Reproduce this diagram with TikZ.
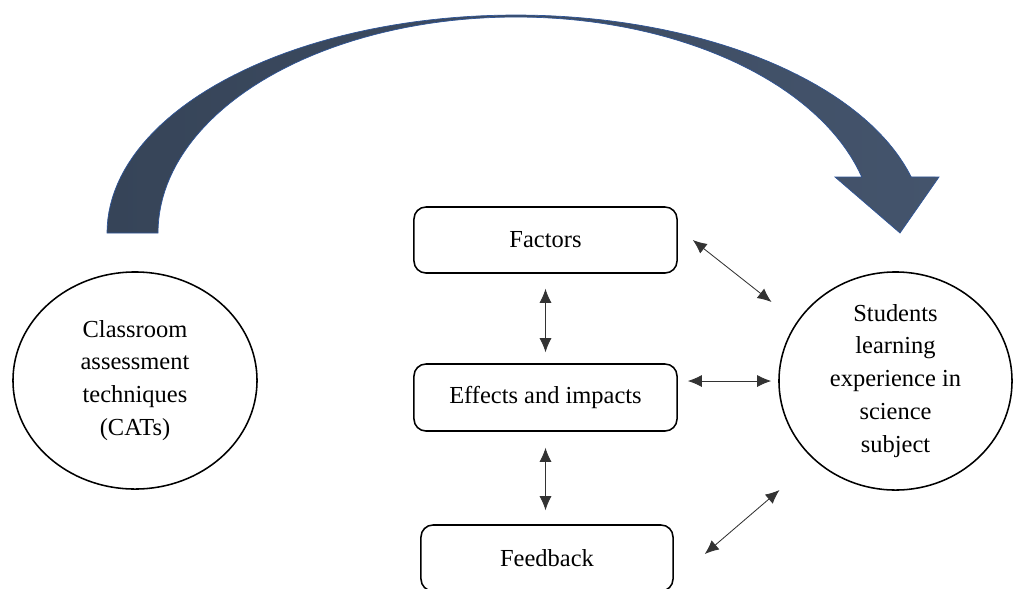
\documentclass[tikz,border=0pt]{standalone}
\usepackage{fontspec}
\setmainfont{Liberation Serif}
\usetikzlibrary{shapes.geometric}
\usetikzlibrary{arrows.meta}
\usetikzlibrary{calc}
\usetikzlibrary{positioning}

\definecolor{arcdark}{RGB}{54,68,88}
\definecolor{arclight}{RGB}{68,84,108}
\definecolor{arcedge}{RGB}{47,85,151}

\tikzset{
  ovalnode/.style={ellipse, draw, line width=1.1pt, inner sep=0pt, align=center,
    font=\fontsize{17.4pt}{23.4pt}\selectfont},
  roundbox/.style={rectangle, draw, line width=1.1pt, rounded corners=0.3cm,
    minimum width=6.575cm, minimum height=1.65cm, inner sep=0pt,
    font=\fontsize{17.4pt}{23.4pt}\selectfont},
  biarrow/.style={{Latex[length=3.5mm,width=3mm]}-{Latex[length=3.5mm,width=3mm]},
    line width=0.6pt, draw=black!80}
}

\begin{document}
\begin{tikzpicture}[x=0.025cm,y=-0.025cm]
        \useasboundingbox (0,0) rectangle (1015,588);

        % Curved arrow
        \path[draw=arcedge, line width=0.5pt, left color=arcdark, right color=arclight]
        plot[domain=0:165.1, samples=90] ({516-409*cos(\x)},{233-218*sin(\x)})
        -- (939,177) -- (900,233) -- (835,177)
        -- plot[domain=15:180, samples=90] ({516+358*cos(\x)},{233-216*sin(\x)})
        -- cycle;

        % Ovals
        \node[ovalnode, minimum width=6.1cm, minimum height=5.425cm] (cats) at (135,380.5)
        {Classroom\\assessment\\techniques\\(CATs)};
        \node[ovalnode, minimum width=5.825cm, minimum height=5.45cm] (students) at (895.5,381)
        {Students\\learning\\experience in\\science\\subject};

        % Boxes
        \node[roundbox] (factors) at (545.5,240) {Factors};
        \node[roundbox, minimum height=1.675cm] (effects) at (545.5,397.5) {Effects and impacts};
        \node[roundbox, minimum width=6.3cm] (feedback) at (547,558) {Feedback};

        % Links
        \draw[biarrow, shorten <=0.375cm, shorten >=0.275cm] (factors.south) -- (effects.north);
        \draw[biarrow, shorten <=0.4cm, shorten >=0.35cm] (effects.south) -- (effects.south |- feedback.north);
        \draw[biarrow] ($(effects.east |- students.west)+(10,0)$) -- ($(students.west)+(-7,0)$);
        \draw[biarrow] ($(factors.east)+(15,0)$) -- ($(students.center)+(-124,-79)$);
        \draw[biarrow] ($(students.center)+(-116,109)$) -- ($(feedback.east)+(31,-4)$);
      \end{tikzpicture}
\end{document}
